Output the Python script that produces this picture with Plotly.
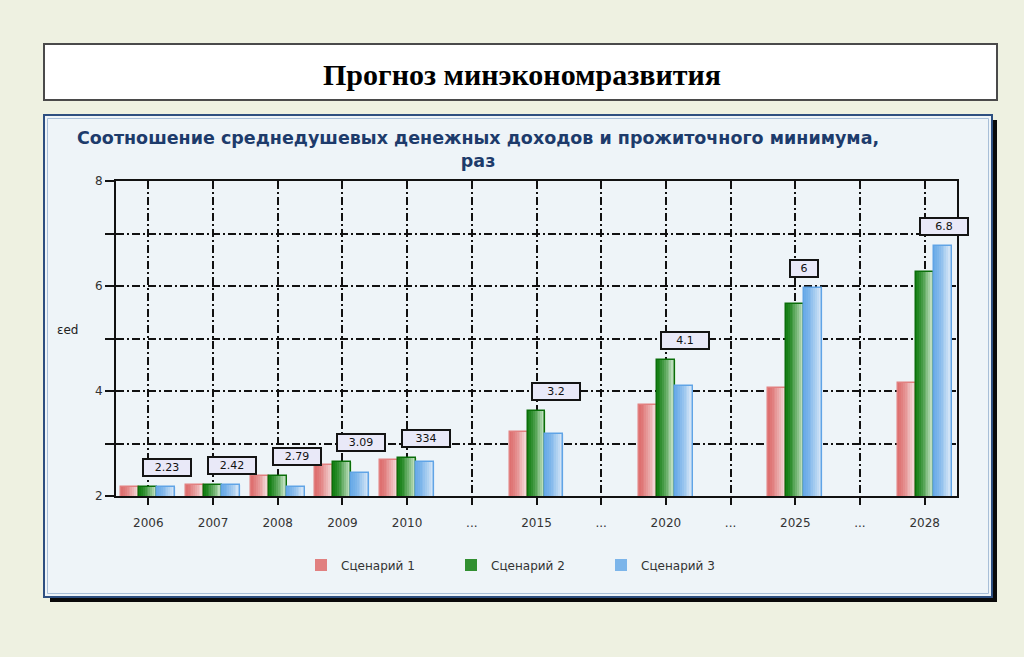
import plotly.graph_objects as go

# ---------------- data ----------------
categories = ["2006", "2007", "2008", "2009", "2010", "...", "2015", "...",
              "2020", "...", "2025", "...", "2028"]
scenario1 = [2.18, 2.21, 2.38, 2.59, 2.68, None, 3.21, None, 3.74, None, 4.06, None, 4.15]
scenario2 = [2.18, 2.21, 2.38, 2.65, 2.73, None, 3.62, None, 4.59, None, 5.65, None, 6.27]
scenario3 = [2.18, 2.21, 2.18, 2.44, 2.65, None, 3.18, None, 4.09, None, 5.97, None, 6.77]
series_names = ["Сценарий 1", "Сценарий 2", "Сценарий 3"]
label_texts = ["2.23", "2.42", "2.79", "3.09", "334", None, "3.2", None, "4.1", None, "6", None, "6.8"]
y_tickvals = [2, 3, 4, 5, 6, 7, 8]
y_ticktext = ["2", "", "4", "", "6", "", "8"]

# ---------------- layout geometry (pixels) ----------------
W, H = 1024, 657
L, R, T, B = 116, 957, 181, 496
PAGE_BG = "#eef1e1"


def fx(px):
    return (px - L) / (R - L)


def fy(py):
    return (B - py) / (B - T)


xs = list(range(len(categories)))
series = [scenario1, scenario2, scenario3]
# gradient colours: left -> right, and outline colour
grads = [
    ((222, 112, 112), (246, 228, 228), "rgb(226,128,128)"),
    ((22, 128, 22), (214, 236, 214), "rgb(10,110,10)"),
    ((108, 172, 232), (224, 236, 248), "rgb(96,164,230)"),
]
bw = 0.278
offsets = [-1.5 * bw, -0.5 * bw, 0.5 * bw]
NSTRIP = 10

fig = go.Figure()
for si, vals in enumerate(series):
    c0, c1, edge = grads[si]
    for k in range(NSTRIP):
        t = (k / (NSTRIP - 1)) ** 1.3
        col = "rgb(%d,%d,%d)" % tuple(round(c0[j] + (c1[j] - c0[j]) * t) for j in range(3))
        fig.add_trace(go.Bar(
            x=xs, y=vals, offset=offsets[si] + k * bw / NSTRIP,
            width=bw / NSTRIP * 1.35,
            marker=dict(color=col, line=dict(width=0)),
            name=series_names[si], legendgroup=series_names[si],
            showlegend=(k == 2), hoverinfo="skip"))
    fig.add_trace(go.Bar(
        x=xs, y=vals, offset=offsets[si], width=bw,
        marker=dict(color="rgba(0,0,0,0)", line=dict(width=1.5, color=edge)),
        name=series_names[si], legendgroup=series_names[si], showlegend=False))

# ---------------- value label boxes ----------------
annotations = []
for i, txt in enumerate(label_texts):
    if txt is None:
        continue
    top = max(v[i] for v in series)
    annotations.append(dict(
        x=xs[i], y=top, xref="x", yref="y", text=txt, showarrow=False,
        xanchor="left", yanchor="bottom", xshift=-6, yshift=10,
        width=44 if len(txt) > 1 else 24, height=13, align="center",
        bgcolor="#e9e9f8", bordercolor="#141414", borderwidth=2, borderpad=1,
        font=dict(family="DejaVu Sans", size=11, color="#111111")))

annotations += [
    dict(text="<b>Прогноз минэкономразвития</b>", x=fx(522), y=fy(74), xref="paper", yref="paper",
         showarrow=False, xanchor="center", yanchor="middle",
         font=dict(family="Liberation Serif", size=30, color="#000000")),
    dict(text="<b>Соотношение среднедушевых денежных доходов и прожиточного минимума,<br>раз</b>",
         x=fx(478), y=fy(150), xref="paper", yref="paper", showarrow=False,
         xanchor="center", yanchor="middle", align="center",
         font=dict(family="DejaVu Sans", size=17.5, color="#1d3b6b")),
    dict(text="εed", x=fx(68), y=fy(330), xref="paper", yref="paper", showarrow=False,
         xanchor="center", yanchor="middle",
         font=dict(family="DejaVu Sans", size=12, color="#222222")),
]

shapes = [
    # title box
    dict(type="rect", xref="paper", yref="paper", x0=fx(44), x1=fx(997), y0=fy(44), y1=fy(100),
         fillcolor="#ffffff", line=dict(color="#4a4a4a", width=2), layer="below"),
    # panel shadow
    dict(type="rect", xref="paper", yref="paper", x0=fx(50), x1=fx(997), y0=fy(120), y1=fy(602),
         fillcolor="#0a0a0a", line=dict(width=0), layer="below"),
    # panel
    dict(type="rect", xref="paper", yref="paper", x0=fx(44), x1=fx(992), y0=fy(115), y1=fy(597),
         fillcolor="#eef4f8", line=dict(color="#2d4f80", width=2), layer="below"),
    dict(type="rect", xref="paper", yref="paper", x0=fx(47.5), x1=fx(988.5), y0=fy(118.5), y1=fy(593.5),
         fillcolor="rgba(0,0,0,0)", line=dict(color="#a8bfd8", width=1), layer="below"),
]

fig.update_layout(
    width=W, height=H,
    margin=dict(l=L, r=W - R, t=T, b=H - B, pad=0),
    paper_bgcolor=PAGE_BG, plot_bgcolor="#f8fbfd",
    barmode="overlay", bargap=0,
    font=dict(family="DejaVu Sans", size=12, color="#333333"),
    showlegend=True,
    legend=dict(orientation="h", x=fx(301), y=fy(565), xanchor="left", yanchor="middle",
                bgcolor="rgba(0,0,0,0)", font=dict(family="DejaVu Sans", size=12, color="#333333"),
                entrywidth=105, entrywidthmode="pixels", traceorder="normal"),
    annotations=annotations, shapes=shapes,
    xaxis=dict(range=[-0.5, len(categories) - 0.5], tickvals=xs, ticktext=categories,
               showgrid=True, gridcolor="#111111", gridwidth=1.5, griddash="8px,3px,2px,3px",
               zeroline=False, showline=True, linecolor="#111111", linewidth=2, mirror=True,
               ticks="outside", ticklen=7, tickwidth=2, tickcolor="#111111",
               ticklabelstandoff=8, tickfont=dict(size=12, color="#333333")),
    yaxis=dict(range=[2, 8], tickvals=y_tickvals, ticktext=y_ticktext,
               showgrid=True, gridcolor="#111111", gridwidth=1.5, griddash="8px,3px,2px,3px",
               zeroline=False, showline=True, linecolor="#111111", linewidth=2, mirror=True,
               ticks="outside", ticklen=9, tickwidth=1.5, tickcolor="#111111",
               tickfont=dict(size=12, color="#333333")),
)

fig.write_html("out.html", config={"displayModeBar": False},
               post_script="document.body.style.margin='0';document.body.style.background='%s';" % PAGE_BG)
